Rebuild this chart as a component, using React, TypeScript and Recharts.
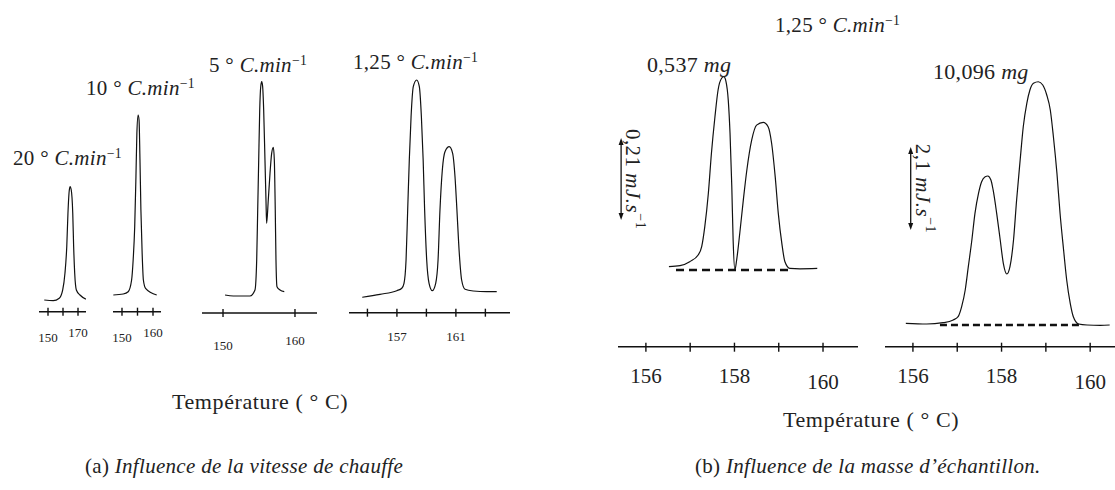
import React from 'react';
import { LineChart, Line, XAxis, YAxis, ReferenceLine } from 'recharts';

const SERIF = '"Liberation Serif", "DejaVu Serif", serif';
const INK = '#111';

// (a) Influence de la vitesse de chauffe : T (°C) / flux (u.a.)
const v20Temp = [147.5, 153.5, 157.5, 159.8, 161.3, 162.5, 163.3, 164, 164.7, 165.5, 166.5, 167.1, 167.8, 168.9, 171.3, 175.3];
const v20Flow = [11.7, 11, 13.4, 21.7, 38.4, 65, 98.4, 118.4, 125, 121.7, 98.4, 65, 38.4, 21.7, 16.7, 12.6];

const v10Temp = [147.2, 150.4, 152, 153.1, 153.6, 154.1, 154.5, 154.8, 155.2, 155.5, 155.8, 156.1, 156.5, 156.9, 157.6, 161.2];
const v10Flow = [16.7, 17.7, 20, 31.7, 51.7, 85, 135, 178.4, 196.7, 191.7, 151.7, 101.7, 58.4, 31.7, 23.4, 16.7];

const v5Temp = [150.28, 151.43, 153.75, 154.44, 154.68, 154.82, 154.96, 155.1, 155.24, 155.38, 155.51, 155.65, 155.83, 155.97, 156.06, 156.29, 156.53, 156.76, 156.99, 157.13, 157.26, 157.36, 157.5, 157.92, 158.51];
const v5Flow = [18, 17, 17, 23, 53, 103, 153, 203, 226.3, 231.3, 226.3, 203, 153, 113, 89.7, 113, 139.7, 159.7, 165.7, 153, 103, 53, 26.3, 23, 21.3];

const v125Temp = [154.65, 155.85, 156.99, 157.33, 157.48, 157.62, 157.73, 157.84, 157.96, 158.11, 158.34, 158.52, 158.66, 158.78, 158.88, 159.02, 159.18, 159.4, 159.63, 159.79, 159.92, 160.08, 160.26, 160.55, 160.78, 160.94, 161.07, 161.23, 161.39, 161.62, 162.18, 163.09, 163.77];
const v125Flow = [15.4, 18.4, 22, 24.4, 29.4, 52.7, 102.7, 152.7, 196, 226, 232.7, 226, 196, 152.7, 102.7, 52.7, 29.4, 22, 29.4, 52.7, 102.7, 142.7, 161, 166, 159.4, 136, 102.7, 59.4, 32.7, 23.4, 21.7, 21, 21];

// (b) Influence de la masse d'échantillon : T (°C) / flux (mJ/s)
const m0537Temp = [156.52, 156.77, 156.99, 157.18, 157.26, 157.33, 157.41, 157.48, 157.56, 157.63, 157.71, 157.76, 157.81, 157.86, 157.9, 157.94, 157.97, 158.01, 158.05, 158.12, 158.2, 158.28, 158.39, 158.5, 158.65, 158.76, 158.84, 158.92, 158.99, 159.07, 159.14, 159.25, 159.48, 159.87];
const m0537Flow = [0.0085, 0.011, 0.0213, 0.0384, 0.0597, 0.111, 0.196, 0.299, 0.393, 0.461, 0.491, 0.495, 0.482, 0.435, 0.35, 0.213, 0.077, 0, 0.026, 0.094, 0.179, 0.256, 0.333, 0.371, 0.378, 0.367, 0.324, 0.239, 0.145, 0.068, 0.021, 0.004, 0.003, 0.004];

const m10096Temp = [155.84, 156.31, 156.68, 156.91, 157.02, 157.1, 157.18, 157.25, 157.33, 157.4, 157.48, 157.55, 157.63, 157.69, 157.76, 157.81, 157.89, 157.97, 158.04, 158.12, 158.19, 158.27, 158.34, 158.42, 158.49, 158.57, 158.64, 158.72, 158.83, 158.93, 159.02, 159.1, 159.17, 159.25, 159.32, 159.4, 159.47, 159.55, 159.62, 159.74, 159.93, 160.23, 160.44];
const m10096Flow = [0.043, 0.025, 0.058, 0.127, 0.21, 0.463, 0.886, 1.475, 2.151, 2.826, 3.332, 3.626, 3.752, 3.77, 3.669, 3.416, 2.826, 2.151, 1.561, 1.29, 1.475, 2.151, 3.163, 4.175, 5.017, 5.609, 5.946, 6.115, 6.155, 6.072, 5.819, 5.44, 4.764, 3.838, 2.826, 1.898, 1.139, 0.549, 0.21, 0.025, 0, -0.008, 0];

// baselines (start/end T) and scale bars (T, low, high)
const base0537 = [156.68, 159.32];
const base10096 = [156.61, 159.77];
const bar0537 = [155.44, 0.128, 0.338];
const bar10096 = [155.95, 2.404, 4.504];

// tick values / labels
const ticksA = [[150, 160, 170], [150, 155, 160], [150, 160], [155, 157, 159, 161, 163]];
const shownA = [[150, 170], [150, 160], [150, 160], [157, 161]];
const ticksB = [156, 157, 158, 159, 160];
const shownB = [156, 158, 160];

const rates = ['20', '10', '5', '1,25'];
const masses = ['0,537', '10,096'];

type Pt = { t: number; v: number };
const zip = (ts: number[], vs: number[]): Pt[] => ts.map((t, i) => ({ t, v: vs[i] }));

const tickMark = (shown: number[], dy: Record<string, number>, fs: number, up: number, down: number) =>
  (p: any) => {
    const v = p.payload.value;
    return (
      <g>
        <line x1={p.x} x2={p.x} y1={p.y - up} y2={p.y + down} stroke={INK} strokeWidth={1.4} />
        {shown.includes(v) && (
          <text x={p.x} y={p.y + (dy[String(v)] ?? 30)} textAnchor="middle" fill="#222" style={{ fontFamily: SERIF, fontSize: fs }}>
            {v}
          </text>
        )}
      </g>
    );
  };

const scaleBar = (label: string) => (p: any) => {
  const x = p.x1;
  const top = Math.min(p.y1, p.y2);
  const bot = Math.max(p.y1, p.y2);
  const mid = (top + bot) / 2;
  return (
    <g>
      <line x1={x} x2={x} y1={top + 4} y2={bot - 4} stroke={INK} strokeWidth={1.3} />
      <path d={`M${x},${top} l-2.5,7 l5,0 z`} fill={INK} />
      <path d={`M${x},${bot} l-2.5,-7 l5,0 z`} fill={INK} />
      <text transform={`translate(${x + 12},${mid}) rotate(90)`} textAnchor="middle" dominantBaseline="central" fill="#222"
        style={{ fontFamily: SERIF, fontSize: 21, letterSpacing: 0.5 }}>
        {label} <tspan fontStyle="italic">mJ.s</tspan>
        <tspan fontSize={14} dy={-8}>−1</tspan>
      </text>
    </g>
  );
};

interface PanelProps {
  left: number;
  top: number;
  width: number;
  plotH: number;
  data: Pt[];
  xDomain: [number, number];
  yDomain: [number, number];
  ticks: number[];
  shown: number[];
  dy: Record<string, number>;
  fs: number;
  up: number;
  down: number;
  children?: React.ReactNode;
}

const Panel = ({ left, top, width, plotH, data, xDomain, yDomain, ticks, shown, dy, fs, up, down, children }: PanelProps) => (
  <div style={{ position: 'absolute', left, top }}>
    <LineChart width={width} height={plotH + 60} data={data} margin={{ top: 0, right: 0, bottom: 0, left: 0 }} style={{ overflow: 'visible' }}>
      <XAxis
        type="number"
        dataKey="t"
        domain={xDomain}
        ticks={ticks}
        interval={0}
        allowDataOverflow
        height={60}
        axisLine={{ stroke: INK, strokeWidth: 1.6 }}
        tickLine={false}
        tickSize={0}
        tickMargin={0}
        tick={tickMark(shown, dy, fs, up, down)}
      />
      <YAxis hide type="number" domain={yDomain} allowDataOverflow />
      <Line type="monotone" dataKey="v" stroke={INK} strokeWidth={1.2} dot={false} isAnimationActive={false} />
      {children}
    </LineChart>
  </div>
);

const Txt = ({ x, y, size = 21, spacing = 0.3, children }: { x: number; y: number; size?: number; spacing?: number; children: React.ReactNode }) => (
  <div
    style={{
      position: 'absolute',
      left: x,
      top: y,
      transform: 'translateY(-50%)',
      fontFamily: SERIF,
      fontSize: size,
      letterSpacing: spacing,
      lineHeight: 1,
      whiteSpace: 'nowrap',
      color: '#222',
    }}
  >
    {children}
  </div>
);

const Sup = ({ children }: { children: React.ReactNode }) => (
  <span style={{ fontSize: '0.65em', position: 'relative', top: '-0.55em' }}>{children}</span>
);

const Rate = ({ v }: { v: string }) => (
  <>
    {v} ° <i>C.min</i>
    <Sup>−1</Sup>
  </>
);

const Temp = () => <>Température ( ° C)</>;

export default function App() {
  const aTop = 40;
  return (
    <div style={{ position: 'absolute', left: 0, top: 0, width: 1115, height: 490, background: '#fff', overflow: 'hidden' }}>
      <style>{`.recharts-surface{overflow:visible}`}</style>
      {/* (a) */}
      <Panel left={39} top={aTop} width={47} plotH={311.7 - aTop} data={zip(v20Temp, v20Flow)} xDomain={[144, 175.33]} yDomain={[0, 311.7 - aTop]}
        ticks={ticksA[0]} shown={shownA[0]} dy={{ 150: 30, 170: 25 }} fs={13} up={4} down={4} />
      <Panel left={113} top={aTop} width={48} plotH={311.7 - aTop} data={zip(v10Temp, v10Flow)} xDomain={[147.1, 162.58]} yDomain={[0, 311.7 - aTop]}
        ticks={ticksA[1]} shown={shownA[1]} dy={{ 150: 30, 160: 25 }} fs={13} up={4} down={4} />
      <Panel left={202} top={aTop} width={115} plotH={313 - aTop} data={zip(v5Temp, v5Flow)} xDomain={[147.08, 163.06]} yDomain={[0, 313 - aTop]}
        ticks={ticksA[2]} shown={shownA[2]} dy={{ 150: 37, 160: 32 }} fs={13} up={4} down={4} />
      <Panel left={349} top={aTop} width={161} plotH={312.7 - aTop} data={zip(v125Temp, v125Flow)} xDomain={[153.75, 164.67]} yDomain={[0, 312.7 - aTop]}
        ticks={ticksA[3]} shown={shownA[3]} dy={{ 157: 28, 161: 28 }} fs={13} up={4} down={4} />

      <Txt x={13} y={158}><Rate v={rates[0]} /></Txt>
      <Txt x={86} y={88}><Rate v={rates[1]} /></Txt>
      <Txt x={209} y={65}><Rate v={rates[2]} /></Txt>
      <Txt x={353} y={62}><Rate v={rates[3]} /></Txt>
      <Txt x={172} y={402} size={22} spacing={0.6}><Temp /></Txt>
      <Txt x={85} y={466} size={21} spacing={0.3}>(a) <i>Influence de la vitesse de chauffe</i></Txt>

      {/* (b) */}
      <Panel left={618} top={20} width={240} plotH={326.7} data={zip(m0537Temp, m0537Flow)} xDomain={[155.37, 160.79]} yDomain={[-0.1964, 0.6402]}
        ticks={ticksB} shown={shownB} dy={{ 156: 36, 158: 36, 160: 42 }} fs={21} up={4} down={5}>
        <ReferenceLine segment={[{ x: base0537[0], y: 0 }, { x: base0537[1], y: 0 }]} stroke={INK} strokeWidth={2.4} strokeDasharray="8 5" />
        <ReferenceLine segment={[{ x: bar0537[0], y: bar0537[1] }, { x: bar0537[0], y: bar0537[2] }]} shape={scaleBar('0,21')} />
      </Panel>
      <Panel left={885} top={20} width={230} plotH={326.7} data={zip(m10096Temp, m10096Flow)} xDomain={[155.37, 160.56]} yDomain={[-0.549, 7.717]}
        ticks={ticksB} shown={shownB} dy={{ 156: 36, 158: 36, 160: 42 }} fs={21} up={4} down={5}>
        <ReferenceLine segment={[{ x: base10096[0], y: 0 }, { x: base10096[1], y: 0 }]} stroke={INK} strokeWidth={2.4} strokeDasharray="7 4" />
        <ReferenceLine segment={[{ x: bar10096[0], y: bar10096[1] }, { x: bar10096[0], y: bar10096[2] }]} shape={scaleBar('2,1')} />
      </Panel>

      <Txt x={775} y={25}><Rate v={rates[3]} /></Txt>
      <Txt x={647} y={65} size={22}>{masses[0]} <i>mg</i></Txt>
      <Txt x={933} y={72} size={22}>{masses[1]} <i>mg</i></Txt>
      <Txt x={783} y={420} size={22} spacing={0.6}><Temp /></Txt>
      <Txt x={695} y={466} size={21} spacing={0.3}>(b) <i>Influence de la masse d’échantillon.</i></Txt>
    </div>
  );
}
